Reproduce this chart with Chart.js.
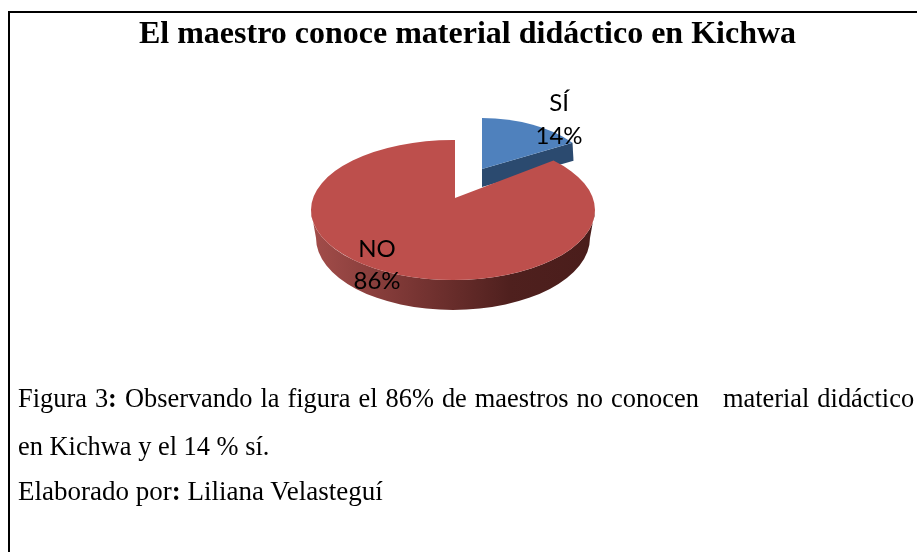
<!DOCTYPE html>
<html lang="es">
<head>
<meta charset="utf-8">
<script src="https://cdn.jsdelivr.net/npm/chart.js@4"></script>
<style>
html,body{margin:0;padding:0;background:#fff;overflow:hidden}
#wrap{position:relative;width:917px;height:552px;overflow:hidden}
#frame{position:absolute;left:8px;top:11px;width:960px;height:600px;border:2px solid #000;box-sizing:border-box}
canvas{position:absolute;left:0;top:0}
.cap{position:absolute;left:18px;font:26.4px "Liberation Serif",serif;color:#000;white-space:pre;line-height:30px}
</style>
</head>
<body>
<div id="wrap">
<div id="frame"></div>
<canvas id="c" width="917" height="552"></canvas>
<div class="cap" style="top:383px;word-spacing:1.4px">Figura 3<b>:</b> Observando la figura el 86% de maestros no conocen   material didáctico</div>
<div class="cap" style="top:431px">en Kichwa y el 14 % sí.</div>
<div class="cap" style="top:476px;font-size:27px">Elaborado por<b>:</b> Liliana Velasteguí</div>
</div>
<script>
const categories = ['SÍ', 'NO'];
const seriesValues = [14, 86];
const sliceColors = ['#4f81bd', '#c0504d'];
const chartTitle = 'El maestro conoce material didáctico en Kichwa';

// Projection of each slice on the page (a tilted, exploded 3D pie)
const looks = [
  {apex:[482,169], c:[481,178], r:[113,60], k:0.35, depth:18, top:'#4f81bd', side:'#2b4a6f',
   label:[559,103,136]},
  {apex:[455,198], c:[453,210], r:[142,70], k:0.46, depth:30, top:'#bd4f4c', side:null,
   label:[377,249,281]}
];

function rim(l, angle){
  const th = angle + Math.PI/2;
  const dx = Math.sin(th), dy = -Math.cos(th)*l.k;
  const ax = (l.apex[0]-l.c[0])/l.r[0], ay = (l.apex[1]-l.c[1])/l.r[1];
  const bx = dx/l.r[0], by = dy/l.r[1];
  const A = bx*bx+by*by, B = 2*(ax*bx+ay*by), C = ax*ax+ay*ay-1;
  const t = (-B+Math.sqrt(B*B-4*A*C))/(2*A);
  const x = l.apex[0]+t*dx, y = l.apex[1]+t*dy;
  return {x, y, phi: Math.atan2((y-l.c[1])/l.r[1], (x-l.c[0])/l.r[0])};
}

const pie3d = {
  id:'pie3d',
  beforeDatasetsDraw(chart){
    const ctx = chart.ctx;
    const arcs = chart.getDatasetMeta(0).data;
    arcs.forEach((arc,i)=>{
      const l = looks[i];
      const s = rim(l, arc.startAngle), e = rim(l, arc.endAngle);
      if(i===0){
        // cut face of the small slice
        ctx.beginPath();
        ctx.moveTo(l.apex[0], l.apex[1]);
        ctx.lineTo(e.x, e.y);
        ctx.lineTo(e.x+1, e.y+l.depth);
        ctx.lineTo(l.apex[0], l.apex[1]+l.depth);
        ctx.closePath();
        ctx.fillStyle = l.side;
        ctx.fill();
      } else {
        // outer wall of the large slice
        const [cx,cy] = l.c, [rx,ry] = l.r;
        const g = ctx.createLinearGradient(cx-rx,0,cx+rx,0);
        g.addColorStop(0,'#a34d4a');
        g.addColorStop(0.35,'#7a3634');
        g.addColorStop(0.7,'#4f201e');
        g.addColorStop(1,'#4a1d1b');
        ctx.beginPath();
        ctx.ellipse(cx,cy,rx,ry,0,Math.PI,0,true);
        ctx.lineTo(cx+rx-5,cy+28);
        ctx.ellipse(cx,cy+28,rx-5,ry+2,0,0,Math.PI,false);
        ctx.closePath();
        ctx.fillStyle = g;
        ctx.fill();
      }
      ctx.beginPath();
      ctx.moveTo(l.apex[0], l.apex[1]);
      ctx.lineTo(s.x, s.y);
      ctx.ellipse(l.c[0],l.c[1],l.r[0],l.r[1],0,s.phi,e.phi,false);
      ctx.closePath();
      ctx.fillStyle = l.top;
      ctx.fill();
    });
    return false;
  },
  afterDraw(chart){
    const ctx = chart.ctx;
    const ds = chart.data.datasets[0].data;
    ctx.save();
    ctx.font = '24px Lato, "Open Sans", sans-serif';
    ctx.fillStyle = '#000';
    ctx.textAlign = 'center';
    ctx.textBaseline = 'middle';
    ds.forEach((v,i)=>{
      const [x,y1,y2] = looks[i].label;
      ctx.fillText(chart.data.labels[i], x, y1);
      ctx.fillText(v+'%', x, y2);
    });
    ctx.restore();
  }
};

new Chart(document.getElementById('c'),{
  type:'pie',
  data:{labels:categories,datasets:[{data:seriesValues,backgroundColor:sliceColors,borderWidth:0}]},
  options:{
    responsive:false,
    animation:false,
    layout:{padding:{left:18}},
    plugins:{
      legend:{display:false},
      tooltip:{enabled:false},
      title:{display:true,text:chartTitle,color:'#000',
        font:{family:'"Liberation Serif",serif',size:32,weight:'bold'},
        padding:{top:16,bottom:10}}
    }
  },
  plugins:[pie3d]
});
</script>
</body>
</html>
